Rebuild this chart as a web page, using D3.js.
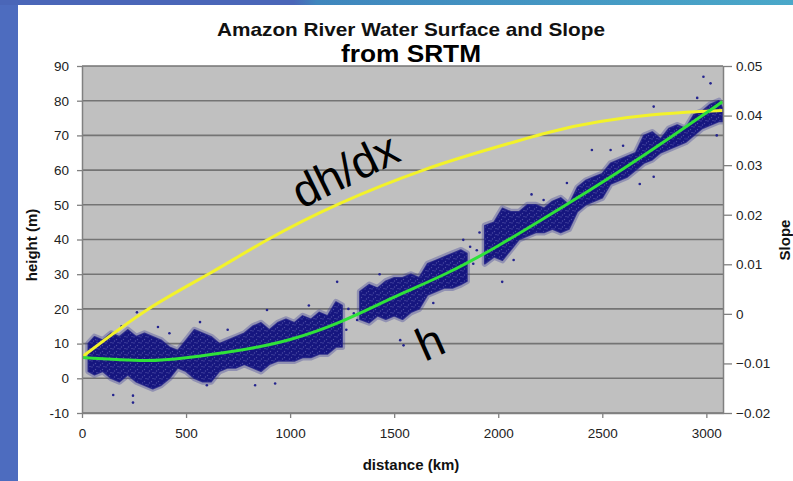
<!DOCTYPE html>
<html>
<head>
  <meta charset="UTF-8">
  <title>Amazon River Water Surface and Slope</title>
  <script src="https://d3js.org/d3.v7.min.js"></script>
  <style>
    body { margin: 0; background: #fff; }
    svg { display: block; }
    .tick-label { font-family: "Liberation Sans", Arial, sans-serif; font-size: 13.5px; fill: #222; }
    .axis-title { font-family: "Liberation Sans", Arial, sans-serif; font-size: 15px; font-weight: bold; fill: #111; }
    .note { font-family: "Liberation Sans", Arial, sans-serif; font-size: 46px; fill: #000; }
  </style>
</head>
<body>
<div id="chart"></div>
<script>
// height profile h (m) along the river
const hKm = [0, 300, 500, 750, 1000, 1250, 1500, 1750, 2000, 2250, 2500, 2750, 3000, 3077];
const hVal = [6.0, 5.1, 5.9, 8.0, 11.2, 16.5, 23.4, 30.2, 38.2, 47.2, 56.5, 66.3, 76.5, 79.7];

// slope dh/dx
const slopeKm = [0, 312, 615, 889, 1240, 1640, 1947, 2250, 2490, 2731, 2971, 3077];
const slopeVal = [-0.0087, 0.0008, 0.0082, 0.0149, 0.0223, 0.0290, 0.0331, 0.0367, 0.0388, 0.0401, 0.0408, 0.0410];

// SRTM water surface points: envelope of the dense cloud (null = gap)
const cloudKm = [30, 60, 100, 140, 180, 220, 260, 300, 340, 380, 420, 460, 500, 540, 580, 620, 660, 700, 740, 780,
  820, 860, 900, 940, 980, 1020, 1060, 1100, 1140, 1180, 1220, 1250, 1290,
  1335, 1380, 1420, 1460, 1500, 1540, 1580, 1620, 1660, 1700, 1740, 1780, 1820, 1850, 1890,
  1935, 1980, 2020, 2060, 2100, 2140, 2180, 2220, 2260, 2300, 2340, 2380, 2420, 2460, 2500, 2540,
  2580, 2620, 2660, 2700, 2740, 2780, 2820, 2860, 2900, 2940, 2980, 3020, 3060, 3077];
const cloudHi = [10, 12, 11, 13, 12, 14, 12, 13, 12, 11, 9, 8, 11, 14, 13, 12, 10, 11, 12, 13,
  15, 16, 14, 16, 17, 16, 18, 17, 19, 18, 22, 21, null,
  25, 27, 26, 28, 29, 29, 30, 29, 33, 34, 35, 36, 37, 36, null,
  44, 45, 49, 48, 48, 50, 50, 49, 51, 52, 50, 55, 57, 58, 59, 62,
  63, 64, 65, 70, 71, 69, 72, 73, 72, 76, 77, 79, 80, 78];
const cloudLo = [2, 1, 2, 0, -1, 1, -1, -2, -3, -2, 0, 3, 2, 0, -1, -1, 2, 3, 3, 4,
  3, 2, 4, 5, 5, 5, 6, 6, 7, 7, 9, 9, null,
  17, 16, 18, 17, 18, 17, 19, 20, 24, 25, 26, 26, 27, 28, null,
  33, 35, 34, 37, 40, 41, 42, 42, 43, 42, 43, 48, 50, 51, 52, 56,
  57, 58, 60, 62, 63, 65, 66, 67, 68, 70, 72, 73, 74, 74];

// scattered single points [km, m]
const strayPts = [[150, -4.8], [245, -7], [245, -5], [600, -2], [832, -2], [928, -1.5], [264, 19], [365, 14.8],
  [567, 16.2], [889, 19.7], [72, 11], [1226, 27.8], [1529, 11], [1545, 9.5], [1322, 16.8], [1306, 18.7],
  [1688, 21.7], [1832, 39.9], [1865, 37.9], [1897, 36.9], [2019, 27.8], [2986, 86.9], [3020, 85],
  [2747, 78.3], [2956, 80.8], [2450, 65.8], [2540, 65.8], [2330, 56.3], [2218, 51.4], [2747, 58.1],
  [2845, 67.8], [2900, 69], [2074, 34.1], [1280, 20], [1270, 14], [1910, 42], [1880, 33], [3050, 70],
  [190, 15], [420, 13], [700, 14], [1090, 21], [1430, 30], [1610, 14], [2160, 53], [2600, 67], [2680, 56]];

const heightTicks = [-10, 0, 10, 20, 30, 40, 50, 60, 70, 80, 90];
const slopeTicks = [-0.02, -0.01, 0, 0.01, 0.02, 0.03, 0.04, 0.05];
const distTicks = [0, 500, 1000, 1500, 2000, 2500, 3000];

const W = 793, H = 481;
const plot = { left: 82, right: 723, top: 66, bottom: 413 };

const svg = d3.select("#chart").append("svg").attr("width", W).attr("height", H);
const defs = svg.append("defs");
const grad = defs.append("linearGradient").attr("id", "topband").attr("x1", "0").attr("x2", "1");
grad.append("stop").attr("offset", "0").attr("stop-color", "#4a66b8");
grad.append("stop").attr("offset", "0.37").attr("stop-color", "#4a66b8");
grad.append("stop").attr("offset", "0.40").attr("stop-color", "#3f86bd");
grad.append("stop").attr("offset", "1").attr("stop-color", "#4aa8c9");

// speckle texture so the cloud reads as many points
const pat = defs.append("pattern").attr("id", "speckle").attr("patternUnits", "userSpaceOnUse")
  .attr("width", 7).attr("height", 6);
pat.append("rect").attr("width", 7).attr("height", 6).attr("fill", "#16167f");
[[1, 1], [4.5, 3.5], [2.5, 5], [6, 0.5]].forEach(p => {
  pat.append("circle").attr("cx", p[0]).attr("cy", p[1]).attr("r", 0.7).attr("fill", "#4a4aa2");
});

// slide background
svg.append("rect").attr("width", W).attr("height", H).attr("fill", "#fff");
svg.append("rect").attr("width", 18).attr("height", H).attr("fill", "#4d6cbf");
svg.append("rect").attr("width", W).attr("height", 5).attr("fill", "url(#topband)");

const x = d3.scaleLinear().domain([0, 3080]).range([plot.left, plot.right]);
const y = d3.scaleLinear().domain([-10, 90]).range([plot.bottom, plot.top]);
const y2 = d3.scaleLinear().domain([-0.02, 0.05]).range([plot.bottom, plot.top]);

svg.append("rect")
  .attr("x", plot.left).attr("y", plot.top)
  .attr("width", plot.right - plot.left).attr("height", plot.bottom - plot.top)
  .attr("fill", "#c0c0c0");

// gridlines
svg.append("g").selectAll("line").data(heightTicks).join("line")
  .attr("x1", plot.left).attr("x2", plot.right)
  .attr("y1", d => y(d)).attr("y2", d => y(d))
  .attr("stroke", "#747474").attr("stroke-width", 1.6);

// clip for data
defs.append("clipPath").attr("id", "clip").append("rect")
  .attr("x", plot.left).attr("y", plot.top)
  .attr("width", plot.right - plot.left).attr("height", plot.bottom - plot.top);
const dataG = svg.append("g").attr("clip-path", "url(#clip)");

const cloud = cloudKm.map((k, i) => ({ k, hi: cloudHi[i], lo: cloudLo[i] }));
const cloudArea = d3.area()
  .defined(d => d.hi !== null)
  .x(d => x(d.k)).y0(d => y(d.lo)).y1(d => y(d.hi))
  .curve(d3.curveLinear);

// soft fringe, then the dense core
dataG.append("path").datum(cloud)
  .attr("d", cloudArea)
  .attr("fill", "none")
  .attr("stroke", "#3a3a98").attr("stroke-opacity", 0.35).attr("stroke-width", 6)
  .attr("stroke-linejoin", "round");
dataG.append("path").datum(cloud)
  .attr("d", cloudArea)
  .attr("fill", "url(#speckle)")
  .attr("stroke", "#1c1c84").attr("stroke-opacity", 0.8).attr("stroke-width", 1.5)
  .attr("stroke-linejoin", "round");

dataG.append("g").selectAll("circle").data(strayPts).join("circle")
  .attr("cx", d => x(d[0])).attr("cy", d => y(d[1]))
  .attr("r", 1.3).attr("fill", "#24248e");

const slopeLine = d3.line().x(d => x(d[0])).y(d => y2(d[1])).curve(d3.curveNatural);
dataG.append("path").datum(slopeKm.map((k, i) => [k, slopeVal[i]]))
  .attr("d", slopeLine).attr("fill", "none")
  .attr("stroke", "#f2f22a").attr("stroke-width", 3);

const hLine = d3.line().x(d => x(d[0])).y(d => y(d[1])).curve(d3.curveNatural);
dataG.append("path").datum(hKm.map((k, i) => [k, hVal[i]]))
  .attr("d", hLine).attr("fill", "none")
  .attr("stroke", "#2fe23a").attr("stroke-width", 3);

// axes
const axisColor = "#808080";
const leftAxis = svg.append("g").attr("transform", `translate(${plot.left},0)`)
  .call(d3.axisLeft(y).tickValues(heightTicks).tickSize(5).tickSizeOuter(0).tickPadding(8).tickFormat(d => String(d)));
const rightAxis = svg.append("g").attr("transform", `translate(${plot.right},0)`)
  .call(d3.axisRight(y2).tickValues(slopeTicks).tickSize(9).tickSizeOuter(0).tickPadding(4)
    .tickFormat(d => Math.abs(d) < 1e-9 ? "0" : d3.format(".2f")(d)));
const bottomAxis = svg.append("g").attr("transform", `translate(0,${plot.bottom})`)
  .call(d3.axisBottom(x).tickValues(distTicks).tickSize(5).tickSizeOuter(0).tickPadding(10).tickFormat(d => String(d)));

[leftAxis, rightAxis, bottomAxis].forEach(g => {
  g.select(".domain").attr("stroke", axisColor).attr("stroke-width", 1.5);
  g.selectAll(".tick line").attr("stroke", axisColor).attr("stroke-width", 1.3);
  g.selectAll(".tick text").attr("class", "tick-label").attr("fill", null);
});

// titles
svg.append("text").attr("x", 411).attr("y", 36).attr("text-anchor", "middle")
  .style("font-family", "'Liberation Sans', Arial, sans-serif")
  .style("font-size", "19px").style("font-weight", "bold").attr("fill", "#111")
  .attr("textLength", 388).attr("lengthAdjust", "spacingAndGlyphs")
  .text("Amazon River Water Surface and Slope");
svg.append("text").attr("x", 411).attr("y", 62).attr("text-anchor", "middle")
  .style("font-family", "'Liberation Sans', Arial, sans-serif")
  .style("font-size", "24px").style("font-weight", "bold").attr("fill", "#000")
  .attr("textLength", 140).attr("lengthAdjust", "spacingAndGlyphs")
  .text("from SRTM");

svg.append("text").attr("class", "axis-title")
  .attr("transform", "translate(37,245) rotate(-90)").attr("text-anchor", "middle")
  .text("height (m)");
svg.append("text").attr("class", "axis-title")
  .attr("transform", "translate(790,240) rotate(-90)").attr("text-anchor", "middle")
  .text("Slope");
svg.append("text").attr("class", "axis-title")
  .attr("x", 411).attr("y", 470).attr("text-anchor", "middle")
  .text("distance (km)");

// curve labels
svg.append("text").attr("class", "note")
  .attr("transform", "translate(345,170) rotate(-26)").attr("text-anchor", "middle").attr("dy", "0.35em")
  .text("dh/dx");
svg.append("text").attr("class", "note")
  .attr("transform", "translate(430,342) rotate(-24)").attr("text-anchor", "middle").attr("dy", "0.35em")
  .text("h");
</script>
</body>
</html>
